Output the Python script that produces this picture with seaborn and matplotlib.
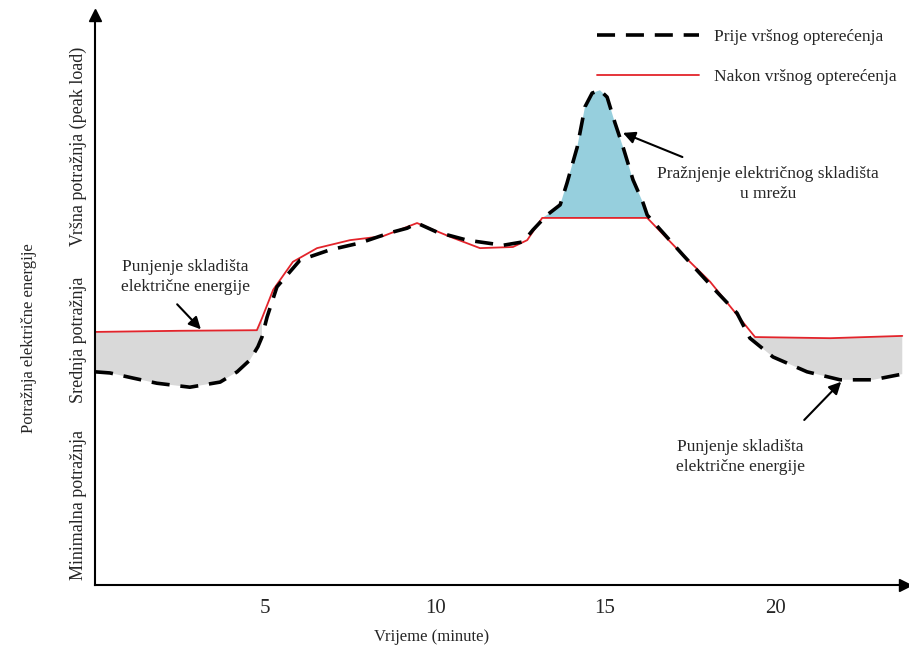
import numpy as np
import matplotlib
matplotlib.use("Agg")
import matplotlib.pyplot as plt
import seaborn as sns

# time axis (minutes) and demand (arbitrary units, 0-10)
t_before = [0.0, 0.44, 1.12, 1.82, 2.79, 3.68, 4.18, 4.56, 4.79, 4.91, 5.06, 5.35,
            6.03, 6.91, 7.79, 8.68, 9.18, 9.47, 10.06, 10.94, 12.0, 12.59, 12.88,
            13.29, 13.68, 13.88, 14.18, 14.41, 14.62, 14.85, 15.06, 15.29, 15.53,
            15.82, 16.12, 16.24, 17.29, 18.29, 18.88, 19.26, 19.94, 20.94, 21.91,
            22.88, 23.74]
d_before = [3.74, 3.72, 3.63, 3.54, 3.47, 3.56, 3.74, 3.95, 4.18, 4.35, 4.70, 5.23,
            5.70, 5.88, 6.00, 6.18, 6.26, 6.35, 6.19, 6.05, 5.96, 6.02, 6.23,
            6.49, 6.67, 7.05, 7.68, 8.39, 8.63, 8.68, 8.56, 8.11, 7.68,
            7.11, 6.70, 6.49, 5.79, 5.14, 4.77, 4.33, 4.00, 3.74, 3.60,
            3.60, 3.70]

t_after = [0.0, 2.5, 4.76, 4.91, 5.24, 5.82, 6.53, 7.5, 8.47, 9.47, 10.44, 11.32,
           12.29, 12.71, 13.15, 16.24, 17.29, 18.09, 19.41, 21.62, 23.74]
d_after = [4.44, 4.46, 4.47, 4.68, 5.18, 5.67, 5.91, 6.05, 6.12, 6.35, 6.11, 5.91,
           5.93, 6.05, 6.44, 6.44, 5.79, 5.32, 4.35, 4.33, 4.37]

x_ticks = [5, 10, 15, 20]
level_pos = [1.4, 4.3, 7.7]
level_labels = ["Minimalna potražnja", "Srednja potražnja", "Vršna potražnja (peak load)"]

sns.set_style("white")
plt.rcParams["font.family"] = ["Liberation Serif", "DejaVu Serif"]

fig = plt.figure(figsize=(9.09, 6.5), dpi=100)
ax = fig.add_axes([95 / 909, 65 / 650, 810 / 909, 570 / 650])

tb = np.array(t_before)
db = np.array(d_before)
ta = np.array(t_after)
da = np.array(d_after)

# grey areas: storage charging (before curve below after curve)
m_b = tb <= 4.91
m_a = ta <= 4.91
ax.fill(np.r_[tb[m_b], ta[m_a][::-1]], np.r_[db[m_b], da[m_a][::-1]],
        color="#d9d9d9", lw=0, zorder=1)
m_b = tb >= 19.26
m_a = ta >= 19.41
ax.fill(np.r_[ta[m_a], tb[m_b][::-1]], np.r_[da[m_a], db[m_b][::-1]],
        color="#d9d9d9", lw=0, zorder=1)
# blue area: storage discharge at peak
m_b = (tb >= 13.29) & (tb <= 16.24)
m_a = (ta >= 13.15) & (ta <= 16.24)
ax.fill(np.r_[tb[m_b], ta[m_a][::-1]], np.r_[db[m_b], da[m_a][::-1]],
        color="#96cfdd", lw=0, zorder=1)

sns.lineplot(x=t_before, y=d_before, ax=ax, color="black", linewidth=2.6,
             linestyle=(0, (5, 3)), estimator=None, sort=False,
             label="Prije vršnog opterećenja", zorder=3)
sns.lineplot(x=t_after, y=d_after, ax=ax, color="#e3242b", linewidth=1.3,
             estimator=None, sort=False,
             label="Nakon vršnog opterećenja", zorder=2)

ax.set_xlim(0, 23.82)
ax.set_ylim(0, 10)

for s in ["top", "right"]:
    ax.spines[s].set_visible(False)
for s in ["left", "bottom"]:
    ax.spines[s].set_color("black")
    ax.spines[s].set_linewidth(1.5)
ax.plot(1, 0, ">", color="black", ms=9, transform=ax.transAxes, clip_on=False)
ax.plot(0, 1, "^", color="black", ms=9, transform=ax.transAxes, clip_on=False)

ax.set_xticks(x_ticks)
ax.set_xticklabels([str(v) for v in x_ticks], fontsize=15)
ax.tick_params(axis="x", direction="out", length=8, width=1.2, color="black", pad=2)
ax.set_yticks(level_pos)
ax.set_yticklabels(level_labels, rotation=90, va="center", fontsize=13)
ax.tick_params(axis="y", length=0, pad=6)

ax.set_xlabel("Vrijeme (minute)", fontsize=12)
ax.xaxis.set_label_coords(0.415, -0.078)
ax.set_ylabel("Potražnja električne energije", fontsize=12)
ax.yaxis.set_label_coords(-0.071, 0.433)

ax.legend(loc="upper left", bbox_to_anchor=(597 / 909, 1 - 29 / 650),
          bbox_transform=fig.transFigure, frameon=False, fontsize=12.5,
          handlelength=5.9, labelspacing=1.35, handletextpad=0.85,
          borderaxespad=0, borderpad=0)

arrow_kw = dict(arrowstyle="-|>", color="black", lw=1.5, mutation_scale=18)
text_kw = dict(fontsize=12.5, ha="center", va="center", linespacing=1.3)

ax.text(2.65, 5.4, "Punjenje skladišta\nelektrične energije", **text_kw)
ax.annotate("", xy=(3.17, 4.45), xytext=(2.36, 4.96), arrowprops=arrow_kw)
ax.text(19.8, 7.03, "Pražnjenje električnog skladišta\nu mrežu", **text_kw)
ax.annotate("", xy=(15.45, 7.95), xytext=(17.35, 7.49), arrowprops=arrow_kw)
ax.text(18.97, 2.25, "Punjenje skladišta\nelektrične energije", **text_kw)
ax.annotate("", xy=(22.0, 3.6), xytext=(20.8, 2.86), arrowprops=arrow_kw)

fig.savefig("out.png", dpi=100)
